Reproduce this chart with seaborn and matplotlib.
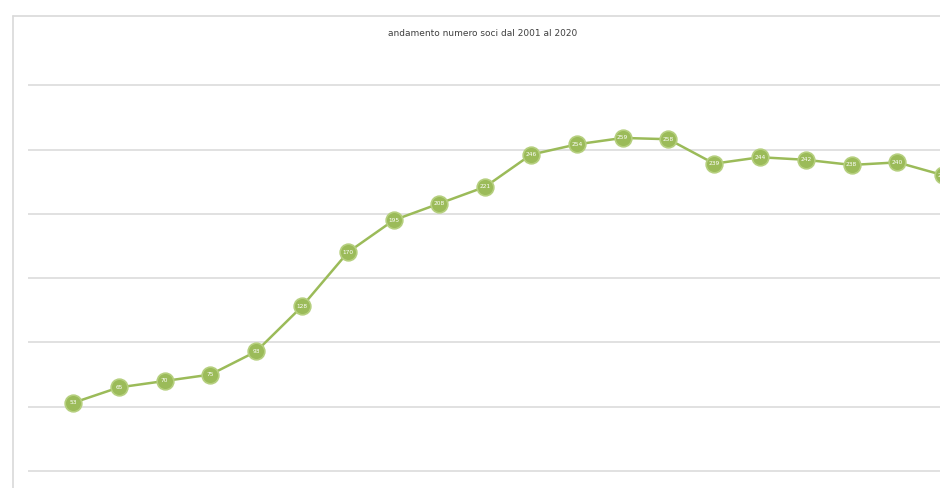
import matplotlib
matplotlib.use("Agg")
import matplotlib.pyplot as plt
from matplotlib.lines import Line2D
import seaborn as sns
import pandas as pd

title = "andamento numero soci dal 2001 al 2020"
years = list(range(2001, 2021))
soci = [53, 65, 70, 75, 93, 128, 170, 195, 208, 221, 246, 254, 259, 258,
        239, 244, 242, 238, 240, 230]
grid_values = [0, 50, 100, 150, 200, 250, 300]

df = pd.DataFrame({"idx": range(len(years)), "anno": years, "soci": soci})

sns.set_theme(style="white")
plt.rcParams['font.family'] = ['DejaVu Sans']

W, H = 940, 488
fig = plt.figure(figsize=(W / 100, H / 100), dpi=100)
fig.patch.set_facecolor("white")

# chart frame (partially visible, cropped)
frame_col = "#d9d9d9"
fig.add_artist(Line2D([13 / W, 13 / W], [0, 1 - 16 / H], transform=fig.transFigure,
                      color=frame_col, lw=1.2))
fig.add_artist(Line2D([13 / W, 1], [1 - 16 / H, 1 - 16 / H], transform=fig.transFigure,
                      color=frame_col, lw=1.2))

ax = fig.add_axes([28 / W, 0, (W - 28) / W, (H - 60) / H])
ax.set_facecolor("none")

green = "#9bbb59"
sns.lineplot(data=df, x="idx", y="soci", ax=ax, color=green, lw=1.8,
             marker="o", markersize=12, markerfacecolor=green,
             markeredgecolor="#b5cf7e", markeredgewidth=1.2, zorder=3)

for i, v in zip(df["idx"], df["soci"]):
    ax.text(i, v, str(v), ha="center", va="center", color="white",
            fontsize=4.2, zorder=4)

ax.set_xlim(-0.983, 18.93)
ax.set_ylim(-13.2, 319.6)
ax.set_yticks(grid_values)
ax.yaxis.grid(True, color="#dedede", lw=1.3)
ax.xaxis.grid(False)
ax.set_xticks([])
ax.set_yticklabels([])
ax.tick_params(left=False, bottom=False)
ax.set_xlabel("")
ax.set_ylabel("")
for s in ax.spines.values():
    s.set_visible(False)

fig.text(483 / W, 1 - 33 / H, title, ha="center", va="center",
         fontsize=6.5, color="#404040")

fig.savefig("out.png", dpi=100, facecolor="white")
